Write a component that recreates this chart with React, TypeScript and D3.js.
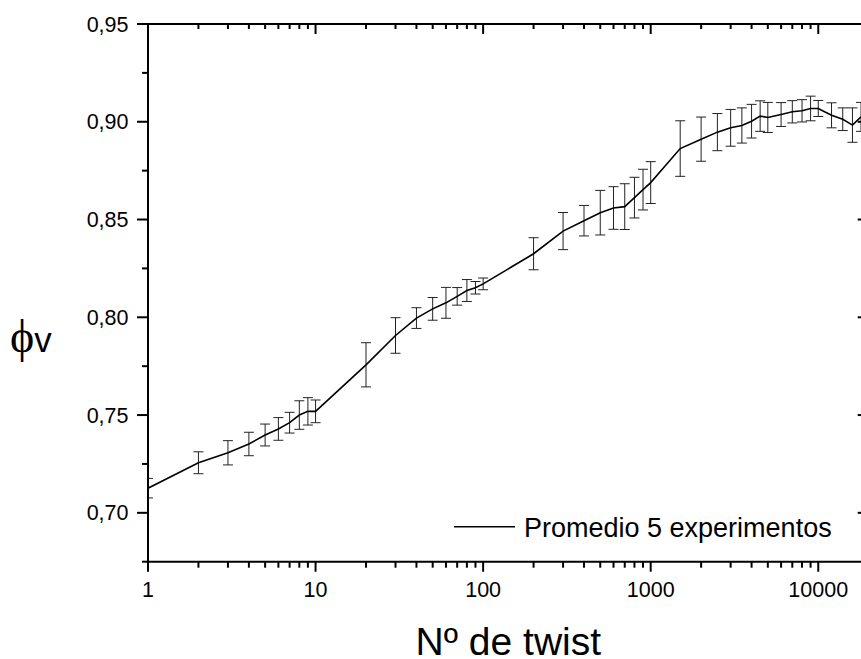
import React from "react";
import * as d3 from "d3";

const twists = [1, 2, 3, 4, 5, 6, 7, 8, 9, 10, 20, 30, 40, 50, 60, 70, 80, 90, 100, 200, 300, 400, 500, 600, 700, 800, 900, 1000, 1500, 2000, 2500, 3000, 3500, 4000, 4500, 5000, 6000, 7000, 8000, 9000, 10000, 12000, 14000, 16000, 18000];
const phiMean = [0.7126, 0.7256, 0.7307, 0.7352, 0.7398, 0.7429, 0.7461, 0.75, 0.7519, 0.7519, 0.7757, 0.7907, 0.7996, 0.8043, 0.8074, 0.8107, 0.8137, 0.8151, 0.8171, 0.8325, 0.8441, 0.8494, 0.8535, 0.8559, 0.8566, 0.8612, 0.8653, 0.8689, 0.8863, 0.8911, 0.8947, 0.8969, 0.8981, 0.9003, 0.9029, 0.9022, 0.9037, 0.9051, 0.9056, 0.9068, 0.9068, 0.9033, 0.9013, 0.8983, 0.9025];
const phiErr = [0.005, 0.0056, 0.0062, 0.006, 0.0056, 0.0058, 0.0053, 0.0073, 0.007, 0.0058, 0.0113, 0.0091, 0.0053, 0.0058, 0.0079, 0.0045, 0.0056, 0.0032, 0.003, 0.0082, 0.0095, 0.0078, 0.0114, 0.0109, 0.0117, 0.0104, 0.0104, 0.0107, 0.0142, 0.0113, 0.0095, 0.0094, 0.009, 0.0086, 0.0078, 0.0077, 0.0061, 0.0057, 0.0057, 0.0063, 0.0041, 0.0064, 0.0058, 0.0088, 0.0074];
const xTickValues = [1, 10, 100, 1000, 10000];
const yTickValues = [0.7, 0.75, 0.8, 0.85, 0.9, 0.95];
const yMinorValues = [0.675, 0.725, 0.775, 0.825, 0.875, 0.925];
const legendLabel = "Promedio 5 experimentos";
const xTitle = "Nº de twist";

const W = 861;
const H = 659;
const L = 148;
const R = 868.7;
const T = 24;
const B = 561.7;

export default function App() {
  const x = d3.scaleLog().domain([1, 20000]).range([L, R]);
  const y = d3.scaleLinear().domain([0.675, 0.95]).range([B, T]);
  const minorX: number[] = [];
  for (let p = 0; p < 5; p++) {
    for (let m = 2; m <= 9; m++) {
      const v = m * Math.pow(10, p);
      if (v <= 20000) minorX.push(v);
    }
  }
  const data = twists.map((t, i) => ({ t, m: phiMean[i], e: phiErr[i] }));
  const line = d3
    .line<{ t: number; m: number }>()
    .x((d) => x(d.t))
    .y((d) => y(d.m));
  const sans = "Arial, 'Liberation Sans', sans-serif";
  const fmt = (v: number) => v.toFixed(2).replace(".", ",");
  const capW = 5;
  return (
    <svg
      width={W}
      height={H}
      style={{ position: "absolute", left: 0, top: 0, display: "block", background: "#fff" }}
    >
      <defs>
        <clipPath id="plotclip">
          <rect x={L} y={T} width={R - L} height={B - T} />
        </clipPath>
      </defs>
      <g clipPath="url(#plotclip)">
        {data.map((d, i) => (
          <g key={i} stroke="#222" strokeWidth={1}>
            <line x1={x(d.t)} x2={x(d.t)} y1={y(d.m - d.e)} y2={y(d.m + d.e)} />
            <line x1={x(d.t) - capW} x2={x(d.t) + capW} y1={y(d.m - d.e)} y2={y(d.m - d.e)} />
            <line x1={x(d.t) - capW} x2={x(d.t) + capW} y1={y(d.m + d.e)} y2={y(d.m + d.e)} />
          </g>
        ))}
        <path d={line(data) || ""} fill="none" stroke="#000" strokeWidth={1.6} />
      </g>
      <g stroke="#000" strokeWidth={2} fill="none">
        <line x1={L} x2={R} y1={B} y2={B} />
        <line x1={L} x2={R} y1={T} y2={T} />
        <line x1={L} x2={L} y1={T - 1} y2={B + 1} />
        <line x1={R} x2={R} y1={T} y2={B} />
      </g>
      <g stroke="#000" strokeWidth={2}>
        {xTickValues.map((v) => (
          <g key={"xt" + v}>
            <line x1={x(v)} x2={x(v)} y1={B} y2={B + 10} />
            <line x1={x(v)} x2={x(v)} y1={T} y2={T + 10} />
          </g>
        ))}
        {minorX.map((v) => (
          <g key={"xm" + v}>
            <line x1={x(v)} x2={x(v)} y1={B} y2={B + 6} />
            <line x1={x(v)} x2={x(v)} y1={T} y2={T + 5} />
          </g>
        ))}
        {yTickValues.map((v) => (
          <g key={"yt" + v}>
            <line x1={L - 11} x2={L} y1={y(v)} y2={y(v)} />
            <line x1={R - 11} x2={R} y1={y(v)} y2={y(v)} />
          </g>
        ))}
        {yMinorValues.map((v) => (
          <g key={"ym" + v}>
            <line x1={L - 6} x2={L} y1={y(v)} y2={y(v)} />
            <line x1={R - 5} x2={R} y1={y(v)} y2={y(v)} />
          </g>
        ))}
      </g>
      <g fontFamily={sans} fontSize={21.5} fill="#000">
        {xTickValues.map((v) => (
          <text key={"xl" + v} x={x(v)} y={596.5} textAnchor="middle">
            {String(v)}
          </text>
        ))}
        {yTickValues.map((v) => (
          <text key={"yl" + v} x={128.5} y={y(v) + 7.5} textAnchor="end">
            {fmt(v)}
          </text>
        ))}
      </g>
      <line x1={454} x2={515} y1={526.7} y2={526.7} stroke="#000" strokeWidth={1.6} />
      <text x={524} y={536.5} fontFamily={sans} fontSize={27} fill="#000">
        {legendLabel}
      </text>
      <text x={(L + R) / 2} y={655} textAnchor="middle" fontFamily={sans} fontSize={39} fill="#000">
        {xTitle}
      </text>
      <text x={10} y={352} fill="#000">
        <tspan fontFamily="'Liberation Serif', 'DejaVu Serif', serif" fontSize={46}>ϕ</tspan>
        <tspan fontFamily={sans} fontSize={35}>v</tspan>
      </text>
    </svg>
  );
}
